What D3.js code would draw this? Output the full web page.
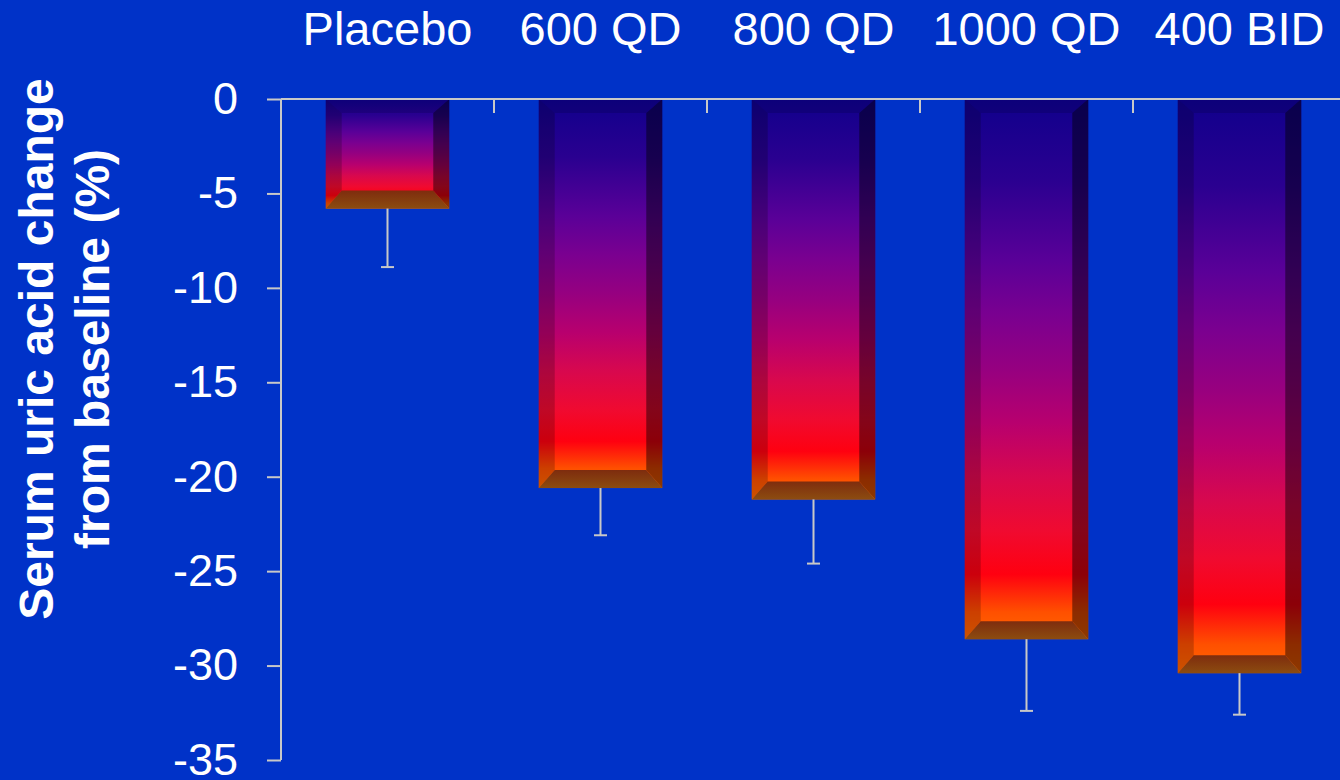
<!DOCTYPE html>
<html>
<head>
<meta charset="utf-8">
<script src="https://cdn.jsdelivr.net/npm/d3@7"></script>
<style>
  html, body { margin: 0; padding: 0; background: #0032c8; }
  svg { display: block; }
  text { font-family: "Liberation Sans", Arial, sans-serif; fill: #ffffff; }
</style>
</head>
<body>
<svg id="chart" width="1340" height="780"></svg>
<script>
// Mean change in serum uric acid by dose group, with SD (shown downward only)
const categories = ["Placebo", "600 QD", "800 QD", "1000 QD", "400 BID"];
const changePct  = [-5.8, -20.6, -21.2, -28.6, -30.4];
const errorPct   = [3.1, 2.5, 3.4, 3.8, 2.2];
const yTicks     = [0, -5, -10, -15, -20, -25, -30, -35];
const yTitle     = ["Serum uric acid change", "from baseline (%)"];

const W = 1340, H = 780;
const plot = { left: 281, right: 1346, top: 99, bottom: 760 };
const axisColor = "#c8c8c8";

const svg = d3.select("#chart");
svg.append("rect").attr("width", W).attr("height", H).attr("fill", "#0032c8");

const x = d3.scaleBand().domain(categories).range([plot.left, plot.right]).padding(0);
const y = d3.scaleLinear().domain([0, -35]).range([plot.top, plot.bottom]);

const defs = svg.append("defs");
const face = defs.append("linearGradient").attr("id", "faceGrad")
  .attr("x1", 0).attr("y1", 0).attr("x2", 0).attr("y2", 1);
[[0, "#10008c"], [0.15, "#2a0090"], [0.3, "#5a0098"], [0.4, "#7a0090"],
 [0.5, "#960080"], [0.6, "#b8006e"], [0.7, "#d8084e"], [0.8, "#f00a30"],
 [0.88, "#ff0010"], [0.95, "#ff5000"], [1, "#ff6800"]]
  .forEach(([o, c]) => face.append("stop").attr("offset", o).attr("stop-color", c));
const base = defs.append("linearGradient").attr("id", "baseGrad")
  .attr("x1", 0).attr("y1", 0).attr("x2", 0).attr("y2", 1);
[[0, "#7e2c0e"], [1, "#8c4c10"]]
  .forEach(([o, c]) => base.append("stop").attr("offset", o).attr("stop-color", c));

const barFrac = 0.58;
const bevSide = 16, bevTop = 14, bevBot = 18;

const rows = categories.map((c, i) => ({ cat: c, v: changePct[i], e: errorPct[i] }));

// Bevelled bars
const bars = svg.append("g").selectAll("g").data(rows).join("g");
bars.each(function(d) {
  const g = d3.select(this);
  const bw = x.bandwidth() * barFrac;
  const x0 = x(d.cat) + (x.bandwidth() - bw) / 2, x1 = x0 + bw;
  const y0 = y(0), y1 = y(d.v);
  const ix0 = x0 + bevSide, ix1 = x1 - bevSide, iy0 = y0 + bevTop, iy1 = y1 - bevBot;
  const poly = pts => "M" + pts.map(p => p.join(",")).join("L") + "Z";

  g.append("rect").attr("x", x0).attr("y", y0).attr("width", bw).attr("height", y1 - y0)
    .attr("fill", "url(#faceGrad)");
  // left bevel
  g.append("path").attr("d", poly([[x0, y0], [ix0, iy0], [ix0, iy1], [x0, y1]]))
    .attr("fill", "#000").attr("fill-opacity", 0.2);
  // right bevel
  g.append("path").attr("d", poly([[x1, y0], [ix1, iy0], [ix1, iy1], [x1, y1]]))
    .attr("fill", "#000").attr("fill-opacity", 0.45);
  // top bevel
  g.append("path").attr("d", poly([[x0, y0], [x1, y0], [ix1, iy0], [ix0, iy0]]))
    .attr("fill", "#000030").attr("fill-opacity", 0.2);
  // bottom bevel
  g.append("path").attr("d", poly([[x0, y1], [ix0, iy1], [ix1, iy1], [x1, y1]]))
    .attr("fill", "url(#baseGrad)");
});

// Error bars (downward)
const err = svg.append("g").attr("stroke", axisColor).attr("stroke-width", 2);
rows.forEach(d => {
  const cx = x(d.cat) + x.bandwidth() / 2;
  err.append("line").attr("x1", cx).attr("x2", cx).attr("y1", y(d.v)).attr("y2", y(d.v - d.e));
  err.append("line").attr("x1", cx - 6.5).attr("x2", cx + 6.5).attr("y1", y(d.v - d.e)).attr("y2", y(d.v - d.e));
});

// Y axis
const yAxis = svg.append("g").attr("transform", `translate(${plot.left},0)`)
  .call(d3.axisLeft(y).tickValues(yTicks).tickSize(14).tickPadding(29).tickFormat(d => String(d)));
yAxis.select(".domain").attr("stroke", axisColor).attr("stroke-width", 2)
  .attr("d", `M0,${plot.top}V${plot.bottom}`);
yAxis.selectAll(".tick line").attr("stroke", axisColor).attr("stroke-width", 2);
yAxis.selectAll(".tick text").attr("fill", "#fff").style("font-size", "45px")
  .style("font-family", '"Liberation Sans", Arial, sans-serif');

// X axis along zero line, with category boundary ticks hanging down
const xAxis = svg.append("g");
xAxis.append("line").attr("x1", plot.left).attr("x2", plot.right).attr("y1", y(0)).attr("y2", y(0))
  .attr("stroke", axisColor).attr("stroke-width", 2);
const bounds = categories.map(c => x(c)).concat([x(categories[categories.length - 1]) + x.bandwidth()]);
xAxis.selectAll("line.tk").data(bounds).join("line").attr("class", "tk")
  .attr("x1", d => d).attr("x2", d => d).attr("y1", y(0)).attr("y2", y(0) + 14)
  .attr("stroke", axisColor).attr("stroke-width", 2);

// Category labels above the plot
svg.append("g").selectAll("text").data(categories).join("text")
  .attr("x", d => x(d) + x.bandwidth() / 2).attr("y", 45)
  .attr("text-anchor", "middle").style("font-size", "47px").text(d => d);

// Y axis title
const cy = 349;
svg.append("g").selectAll("text").data(yTitle).join("text")
  .attr("transform", (d, i) => `translate(${53 + i * 56},${cy}) rotate(-90)`)
  .attr("text-anchor", "middle").style("font-size", "48px").style("font-weight", "bold")
  .text(d => d);
</script>
</body>
</html>
